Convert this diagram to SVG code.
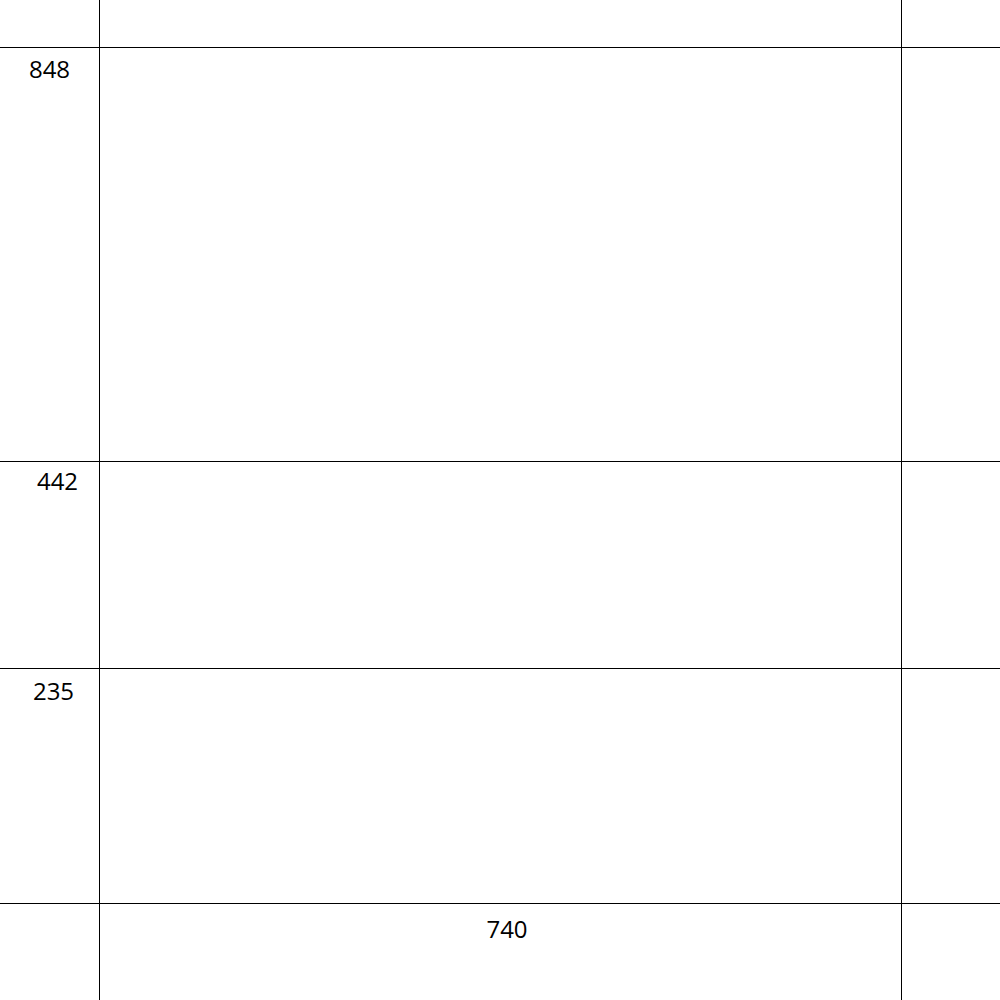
<svg xmlns="http://www.w3.org/2000/svg" width="1000" height="1000" viewBox="0 0 1000 1000">
<style>
.ln{stroke:#000;stroke-width:1;fill:none}
.t{font-family:"Open Sans","Noto Sans",sans-serif;font-size:24px;fill:#000;text-anchor:middle}
</style>
<rect width="1000" height="1000" fill="#fff"/>
<g id="grid">
<line class="ln" x1="99.5" y1="0" x2="99.5" y2="1000"/>
<line class="ln" x1="901.5" y1="0" x2="901.5" y2="1000"/>
<line class="ln" x1="0" y1="47.5" x2="1000" y2="47.5"/>
<line class="ln" x1="0" y1="461.5" x2="1000" y2="461.5"/>
<line class="ln" x1="0" y1="668.5" x2="1000" y2="668.5"/>
<line class="ln" x1="0" y1="903.5" x2="1000" y2="903.5"/>
</g>
<g id="labels">
<text class="t" x="49.5" y="78">848</text>
<text class="t" x="57.5" y="490">442</text>
<text class="t" x="53.5" y="700">235</text>
<text class="t" x="507" y="938">740</text>
</g>
</svg>
